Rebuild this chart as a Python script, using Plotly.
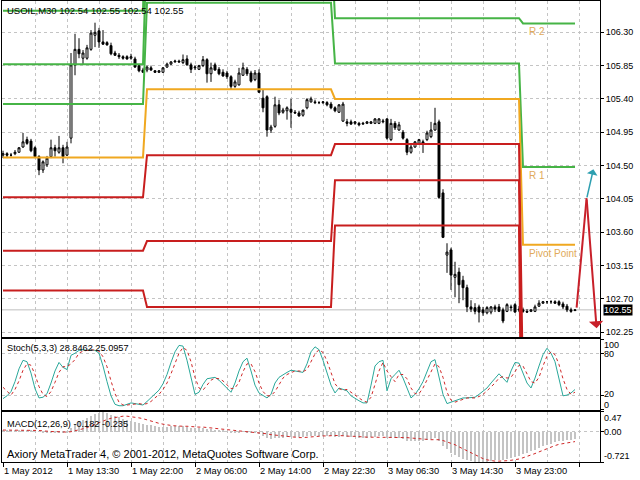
"""
USOIL M30 chart with daily pivot levels, Stochastic and MACD panels.
"""

import plotly.graph_objects as go

# ---- price bars (M30) ----
BARS = list(range(144))

OPEN = [
    104.64, 104.66, 104.64, 104.66, 104.68, 104.75, 104.85, 104.83, 104.74, 104.62,
    104.44, 104.51, 104.62, 104.74, 104.68, 104.74, 104.64, 104.87, 105.86, 106.07,
    105.95, 105.95, 106.07, 106.26, 106.32, 106.17, 106.16, 106.12, 106.02, 105.99,
    105.97, 105.97, 105.95, 105.94, 105.85, 105.79, 105.79, 105.82, 105.78, 105.76,
    105.76, 105.83, 105.87, 105.90, 105.91, 105.89, 105.94, 105.86, 105.82, 105.80,
    105.85, 105.93, 105.74, 105.86, 105.80, 105.76, 105.75, 105.70, 105.57, 105.59,
    105.72, 105.80, 105.75, 105.66, 105.75, 105.41, 105.43, 104.98, 105.03, 105.32,
    105.22, 105.24, 105.26, 105.22, 105.21, 105.18, 105.28, 105.36, 105.36, 105.35,
    105.35, 105.35, 105.33, 105.28, 105.22, 105.10, 105.09, 105.09, 105.07, 105.07,
    105.06, 105.07, 105.07, 105.07, 105.07, 105.09, 105.13, 104.85, 105.07, 104.98,
    104.95, 104.85, 104.68, 104.75, 104.80, 104.82, 104.85, 104.89, 104.98, 105.09,
    104.13, 103.29, 103.36, 102.99, 103.06, 102.95, 102.85, 102.59, 102.58, 102.59,
    102.55, 102.51, 102.52, 102.59, 102.59, 102.55, 102.53, 102.59, 102.62, 102.56,
    102.55, 102.53, 102.53, 102.53, 102.60, 102.64, 102.66, 102.66, 102.66, 102.66,
    102.63, 102.60, 102.55, 102.54,
]
HIGH = [
    104.70, 104.68, 104.67, 104.71, 104.75, 104.94, 104.89, 104.86, 104.76, 104.64,
    104.57, 104.63, 104.85, 104.78, 104.90, 104.78, 104.82, 106.02, 106.28, 106.22,
    106.06, 106.13, 106.33, 106.43, 106.36, 106.33, 106.18, 106.16, 106.05, 106.02,
    105.99, 105.99, 106.01, 105.97, 105.87, 105.82, 105.85, 105.85, 105.79, 105.79,
    105.83, 105.89, 105.91, 105.93, 105.93, 106.00, 105.99, 105.89, 105.85, 105.86,
    105.98, 105.95, 105.89, 105.89, 105.83, 105.80, 105.78, 105.72, 105.66, 105.82,
    105.89, 105.83, 105.78, 105.79, 105.80, 105.53, 105.45, 105.05, 105.43, 105.39,
    105.28, 105.30, 105.40, 105.25, 105.24, 105.22, 105.41, 105.43, 105.39, 105.37,
    105.37, 105.37, 105.36, 105.30, 105.33, 105.36, 105.13, 105.12, 105.10, 105.09,
    105.09, 105.10, 105.10, 105.14, 105.14, 105.13, 105.14, 105.13, 105.10, 105.09,
    104.98, 104.87, 104.78, 104.83, 104.86, 104.85, 104.97, 105.09, 105.28, 105.12,
    104.18, 103.45, 103.39, 103.20, 103.12, 103.01, 102.89, 102.68, 102.64, 102.62,
    102.59, 102.60, 102.60, 102.62, 102.63, 102.58, 102.64, 102.62, 102.64, 102.60,
    102.58, 102.56, 102.56, 102.62, 102.68, 102.67, 102.67, 102.68, 102.68, 102.68,
    102.66, 102.63, 102.58, 102.55,
]
LOW = [
    104.60, 104.60, 104.62, 104.64, 104.67, 104.74, 104.78, 104.68, 104.60, 104.37,
    104.40, 104.48, 104.60, 104.62, 104.66, 104.53, 104.63, 104.80, 105.72, 105.95,
    105.87, 105.93, 106.05, 106.10, 106.09, 106.13, 106.12, 105.99, 105.98, 105.94,
    105.93, 105.93, 105.93, 105.82, 105.76, 105.75, 105.76, 105.78, 105.75, 105.75,
    105.75, 105.82, 105.86, 105.89, 105.89, 105.87, 105.85, 105.75, 105.79, 105.79,
    105.83, 105.62, 105.63, 105.78, 105.72, 105.70, 105.67, 105.53, 105.55, 105.58,
    105.71, 105.71, 105.62, 105.64, 105.48, 105.22, 104.89, 104.94, 105.01, 105.18,
    105.20, 105.12, 105.01, 105.20, 105.16, 105.16, 105.26, 105.35, 105.33, 105.33,
    105.33, 105.30, 105.26, 105.22, 105.21, 105.09, 105.03, 105.05, 105.05, 105.03,
    105.05, 105.06, 105.06, 105.06, 105.06, 105.07, 104.85, 104.83, 104.98, 104.97,
    104.85, 104.64, 104.66, 104.74, 104.78, 104.67, 104.83, 104.87, 104.97, 104.05,
    103.52, 103.05, 102.82, 102.72, 102.64, 102.68, 102.52, 102.52, 102.49, 102.38,
    102.47, 102.49, 102.49, 102.52, 102.52, 102.37, 102.52, 102.53, 102.51, 102.52,
    102.51, 102.51, 102.52, 102.52, 102.59, 102.63, 102.63, 102.63, 102.63, 102.60,
    102.56, 102.52, 102.51, 102.54,
]
CLOSE = [
    104.66, 104.64, 104.64, 104.68, 104.74, 104.82, 104.80, 104.70, 104.62, 104.44,
    104.55, 104.60, 104.74, 104.70, 104.74, 104.62, 104.75, 105.86, 106.07, 106.01,
    106.02, 106.09, 106.29, 106.30, 106.17, 106.14, 106.13, 106.01, 105.99, 105.97,
    105.95, 105.94, 105.97, 105.83, 105.78, 105.76, 105.83, 105.79, 105.76, 105.78,
    105.82, 105.87, 105.90, 105.91, 105.90, 105.93, 105.86, 105.80, 105.83, 105.85,
    105.93, 105.74, 105.82, 105.79, 105.74, 105.71, 105.70, 105.57, 105.63, 105.75,
    105.82, 105.74, 105.64, 105.75, 105.49, 105.28, 104.98, 105.02, 105.32, 105.21,
    105.25, 105.28, 105.22, 105.21, 105.17, 105.25, 105.39, 105.40, 105.35, 105.35,
    105.36, 105.32, 105.28, 105.24, 105.32, 105.33, 105.07, 105.06, 105.09, 105.05,
    105.07, 105.09, 105.09, 105.13, 105.13, 105.10, 104.87, 105.07, 105.01, 105.05,
    104.87, 104.68, 104.75, 104.82, 104.85, 104.80, 104.94, 104.98, 105.07, 104.07,
    103.53, 103.33, 103.02, 103.03, 102.89, 102.85, 102.59, 102.56, 102.53, 102.52,
    102.51, 102.58, 102.59, 102.56, 102.53, 102.40, 102.62, 102.58, 102.52, 102.55,
    102.53, 102.52, 102.55, 102.59, 102.64, 102.66, 102.66, 102.66, 102.64, 102.62,
    102.59, 102.55, 102.53, 102.55,
]

# ---- daily pivot levels (one value per day) ----
DAY_START = [0, 36, 83, 130]
R3 = [106.59, 108.75, 106.98, 107.47]
R2 = [105.87, 107.59, 106.49, 106.42]
R1 = [105.33, 106.70, 105.88, 104.48]
PP = [104.61, 105.53, 105.40, 103.43]
S1 = [104.07, 104.64, 104.79, 101.49]
S2 = [103.35, 103.48, 104.30, 100.44]
S3 = [102.81, 102.59, 103.69, 98.50]

# ---- Stochastic(5,3,3) ----
STOCH_K = [
    16, 20, 26, 40, 58, 70, 68, 52, 30, 17,
    18, 23, 38, 55, 67, 60, 57, 77, 80, 84,
    85, 84, 85, 84, 80, 62, 40, 20, 8, 6,
    6, 8, 10, 9, 8, 7, 12, 17, 22, 28,
    37, 50, 67, 82, 91, 90, 70, 45, 22, 25,
    36, 44, 45, 46, 42, 36, 30, 25, 38, 55,
    68, 73, 55, 35, 24, 20, 17, 22, 38, 46,
    50, 53, 56, 55, 54, 53, 65, 82, 89, 85,
    70, 52, 35, 24, 31, 29, 27, 20, 16, 13,
    10, 10, 35, 62, 68, 70, 27, 44, 50, 56,
    45, 30, 17, 22, 30, 40, 55, 68, 71, 45,
    22, 9, 11, 13, 16, 17, 17, 17, 18, 22,
    27, 31, 38, 45, 51, 45, 39, 55, 67, 66,
    52, 38, 31, 45, 62, 78, 87, 80, 68, 45,
    20, 21, 24, 28.8462,
]
STOCH_D = [
    32, 26, 21, 29, 41, 56, 65, 63, 50, 33,
    22, 19, 26, 39, 53, 61, 61, 65, 71, 80,
    83, 84, 85, 84, 83, 75, 61, 41, 23, 11,
    7, 7, 8, 9, 9, 8, 9, 12, 17, 22,
    29, 38, 51, 66, 80, 88, 84, 68, 46, 31,
    28, 35, 42, 45, 44, 41, 36, 30, 31, 39,
    54, 65, 65, 54, 38, 26, 20, 20, 26, 35,
    45, 50, 53, 55, 55, 54, 57, 67, 79, 85,
    81, 69, 52, 37, 30, 28, 29, 25, 21, 16,
    13, 11, 18, 36, 55, 67, 55, 47, 40, 50,
    50, 44, 31, 23, 23, 31, 42, 54, 65, 61,
    46, 25, 14, 11, 13, 15, 17, 17, 17, 19,
    22, 27, 32, 38, 45, 47, 45, 46, 54, 63,
    62, 52, 40, 38, 46, 62, 76, 82, 78, 64,
    44, 29, 22, 25.0957,
]

# ---- MACD(12,26,9) ----
MACD_MAIN = [
    0.03, 0.03, 0.02, 0.02, 0.03, 0.04, 0.04, 0.03, 0.02, 0.00,
    -0.02, -0.03, -0.02, -0.02, -0.01, -0.02, -0.01, 0.08, 0.18, 0.25,
    0.28, 0.33, 0.38, 0.42, 0.45, 0.47, 0.44, 0.40, 0.37, 0.34,
    0.31, 0.28, 0.26, 0.23, 0.20, 0.18, 0.16, 0.15, 0.13, 0.12,
    0.12, 0.12, 0.13, 0.13, 0.13, 0.14, 0.12, 0.10, 0.09, 0.08,
    0.09, 0.06, 0.06, 0.05, 0.04, 0.02, 0.01, -0.02, -0.03, -0.02,
    0.00, -0.01, -0.03, -0.03, -0.06, -0.09, -0.15, -0.17, -0.15, -0.15,
    -0.14, -0.13, -0.13, -0.13, -0.13, -0.12, -0.11, -0.10, -0.10, -0.09,
    -0.09, -0.10, -0.11, -0.12, -0.12, -0.11, -0.12, -0.13, -0.13, -0.14,
    -0.14, -0.14, -0.13, -0.12, -0.11, -0.11, -0.14, -0.14, -0.15, -0.15,
    -0.17, -0.21, -0.22, -0.22, -0.21, -0.21, -0.19, -0.17, -0.14, -0.22,
    -0.33, -0.42, -0.50, -0.55, -0.60, -0.64, -0.68, -0.70, -0.71, -0.72,
    -0.721, -0.71, -0.70, -0.68, -0.67, -0.67, -0.65, -0.62, -0.60, -0.57,
    -0.53, -0.50, -0.47, -0.43, -0.39, -0.35, -0.31, -0.28, -0.25, -0.23,
    -0.21, -0.20, -0.19, -0.182,
]
MACD_SIGNAL = [
    0.04, 0.04, 0.03, 0.03, 0.03, 0.03, 0.03, 0.03, 0.03, 0.03,
    0.02, 0.01, 0.01, 0.00, 0.00, -0.01, -0.01, 0.00, 0.02, 0.04,
    0.07, 0.10, 0.14, 0.18, 0.22, 0.26, 0.29, 0.32, 0.34, 0.36,
    0.37, 0.37, 0.36, 0.35, 0.33, 0.31, 0.28, 0.25, 0.22, 0.20,
    0.18, 0.16, 0.15, 0.14, 0.13, 0.13, 0.13, 0.12, 0.12, 0.11,
    0.11, 0.10, 0.09, 0.08, 0.07, 0.06, 0.05, 0.04, 0.03, 0.02,
    0.01, 0.00, 0.00, -0.01, -0.02, -0.03, -0.05, -0.07, -0.08, -0.10,
    -0.11, -0.12, -0.13, -0.14, -0.14, -0.14, -0.13, -0.13, -0.12, -0.11,
    -0.10, -0.10, -0.09, -0.09, -0.09, -0.10, -0.10, -0.11, -0.11, -0.12,
    -0.12, -0.13, -0.13, -0.13, -0.13, -0.13, -0.13, -0.13, -0.13, -0.13,
    -0.14, -0.14, -0.15, -0.16, -0.17, -0.18, -0.19, -0.19, -0.19, -0.19,
    -0.21, -0.24, -0.27, -0.31, -0.36, -0.41, -0.46, -0.51, -0.56, -0.60,
    -0.64, -0.67, -0.69, -0.70, -0.70, -0.70, -0.69, -0.68, -0.67, -0.65,
    -0.62, -0.59, -0.56, -0.52, -0.48, -0.44, -0.40, -0.36, -0.33, -0.30,
    -0.28, -0.26, -0.25, -0.235,
]

# ---- axis labels ----
PRICE_TICKS = [102.25, 102.70, 103.15, 103.60, 104.05, 104.50, 104.95, 105.40, 105.85, 106.30]
TIME_TICKS = [0, 16, 32, 48, 64, 80, 96, 112, 128]
TIME_LABELS = ["1 May 2012", "1 May 13:30", "1 May 22:00", "2 May 06:00", "2 May 14:00",
               "2 May 22:30", "3 May 06:30", "3 May 14:30", "3 May 23:00"]

# hand drawn forecast arrows (bar, price)
ZIGZAG_BARS = [143.4, 145.9, 148.4]
ZIGZAG_PRICES = [102.58, 104.06, 102.30]
UP_ARROW_BARS = [145.9, 147.6]
UP_ARROW_PRICES = [104.05, 104.45]

FONT = "Liberation Sans, Arial, sans-serif"
GRID = "#C4C4C4"
GREEN = "#46B446"
ORANGE = "#F0A820"
RED = "#C81E1E"
LABEL_GOLD = "#E1AA5A"


def expand_daily(levels):
    """Repeat one pivot value per day across that day's bars."""
    out = []
    for i in BARS:
        day = sum(1 for s in DAY_START if i >= s) - 1
        out.append(levels[day])
    return out


fig = go.Figure()

fig.add_trace(go.Candlestick(
    x=BARS, open=OPEN, high=HIGH, low=LOW, close=CLOSE,
    increasing=dict(line=dict(color="black", width=1), fillcolor="white"),
    decreasing=dict(line=dict(color="black", width=1), fillcolor="black"),
    whiskerwidth=0, xaxis="x", yaxis="y", showlegend=False,
))

# pivot levels drawn above the candles
for levels, color in [(R3, GREEN), (R2, GREEN), (R1, GREEN), (PP, ORANGE),
                      (S3, RED), (S2, RED), (S1, RED)]:
    fig.add_trace(go.Scatter(
        x=BARS, y=expand_daily(levels), mode="lines",
        line=dict(color=color, width=2), xaxis="x", yaxis="y",
        showlegend=False, hoverinfo="skip",
    ))

# forecast zigzag (first leg as a line, second leg as an arrow)
fig.add_trace(go.Scatter(
    x=ZIGZAG_BARS[:2], y=ZIGZAG_PRICES[:2], mode="lines",
    line=dict(color="#C8202A", width=2), xaxis="x", yaxis="y",
    showlegend=False, hoverinfo="skip",
))

# Stochastic
fig.add_trace(go.Scatter(
    x=BARS, y=STOCH_K, mode="lines", line=dict(color="#2AA89A", width=1),
    xaxis="x2", yaxis="y2", showlegend=False,
))
fig.add_trace(go.Scatter(
    x=BARS, y=STOCH_D, mode="lines", line=dict(color="#D02828", width=1, dash="3px,3px"),
    xaxis="x2", yaxis="y2", showlegend=False,
))

# MACD
fig.add_trace(go.Bar(
    x=BARS, y=MACD_MAIN, width=0.3, marker=dict(color="#C4C4C4", line=dict(width=0)),
    xaxis="x3", yaxis="y3", showlegend=False,
))
fig.add_trace(go.Scatter(
    x=BARS, y=MACD_SIGNAL, mode="lines", line=dict(color="#D02828", width=1, dash="3px,3px"),
    xaxis="x3", yaxis="y3", showlegend=False,
))

xcommon = dict(
    range=[-0.25, 149.25], showline=True, mirror=True, linecolor="black", linewidth=1,
    showgrid=True, gridcolor=GRID, griddash="3px,3px", zeroline=False,
    tickmode="linear", tick0=0, dtick=8, showticklabels=False, ticks="",
)
ycommon = dict(
    side="right", showline=True, mirror=True, linecolor="black", linewidth=1,
    showgrid=True, gridcolor=GRID, griddash="3px,3px", zeroline=False,
    ticks="outside", ticklen=3, tickcolor="black", fixedrange=True,
)

fig.update_layout(
    width=640, height=480, autosize=False,
    margin=dict(l=2, r=40, t=1, b=18, pad=0),
    paper_bgcolor="white", plot_bgcolor="white",
    font=dict(family=FONT, size=9, color="black"),
    bargap=0,
    xaxis=dict(xcommon, anchor="y", rangeslider=dict(visible=False)),
    xaxis2=dict(xcommon, anchor="y2", matches="x"),
    xaxis3=dict(xcommon, anchor="y3", matches="x", dtick=16, ticks="outside", ticklen=4,
                tickcolor="black",
                minor=dict(tick0=0, dtick=8, showgrid=True, gridcolor=GRID, griddash="3px,3px")),
    yaxis=dict(ycommon, domain=[0.2711, 1.0], range=[102.183, 106.723],
               tickmode="array", tickvals=PRICE_TICKS,
               ticktext=[f"{v:.2f}" for v in PRICE_TICKS]),
    yaxis2=dict(ycommon, domain=[0.1128, 0.2668], range=[0, 100],
                tickmode="array", tickvals=[0, 20, 80, 100], showticklabels=False),
    yaxis3=dict(ycommon, domain=[0.0, 0.1085], range=[-0.721, 0.47],
                tickmode="array", tickvals=[-0.721, 0.0, 0.47], showticklabels=False),
)

# bid line
fig.add_shape(type="line", xref="x domain", x0=0, x1=1, yref="y",
              y0=CLOSE[-1], y1=CLOSE[-1], line=dict(color="#BEBEBE", width=1), layer="below")

ann = []
ann.append(dict(
    text=f"USOIL,M30 {OPEN[-1]:.2f} {HIGH[-1]:.2f} {LOW[-1]:.2f} {CLOSE[-1]:.2f}",
    xref="paper", x=0, xanchor="left", xshift=3, yref="y domain", y=1, yanchor="top",
    yshift=-2, showarrow=False, font=dict(size=9.5)))
ann.append(dict(
    text=f"{CLOSE[-1]:.2f}", xref="paper", x=1, xanchor="left", xshift=3,
    yref="y", y=CLOSE[-1], yanchor="middle", showarrow=False, bgcolor="black",
    borderpad=0, font=dict(size=9, color="white")))

# pivot names next to today's levels
for name, levels in [("R 2", R2), ("R 1", R1), ("Pivot Point", PP)]:
    ann.append(dict(text=name, xref="x", x=DAY_START[-1] + 1, xanchor="left",
                    yref="y", y=levels[-1], yanchor="top", yshift=-1,
                    showarrow=False, font=dict(size=10, color=LABEL_GOLD)))

# forecast arrows
ann.append(dict(xref="x", yref="y", x=ZIGZAG_BARS[2], y=ZIGZAG_PRICES[2],
                axref="x", ayref="y", ax=ZIGZAG_BARS[1], ay=ZIGZAG_PRICES[1],
                showarrow=True, arrowhead=1, arrowsize=1.2, arrowwidth=2,
                arrowcolor="#C8202A", text=""))
ann.append(dict(xref="x", yref="y", x=UP_ARROW_BARS[1], y=UP_ARROW_PRICES[1],
                axref="x", ayref="y", ax=UP_ARROW_BARS[0], ay=UP_ARROW_PRICES[0],
                showarrow=True, arrowhead=1, arrowsize=1.2, arrowwidth=1.5,
                arrowcolor="#2E9FB0", text=""))

# indicator captions
ann.append(dict(
    text=f"Stoch(5,3,3) {STOCH_K[-1]:.4f} {STOCH_D[-1]:.4f}",
    xref="paper", x=0, xanchor="left", xshift=3, yref="y2 domain", y=1,
    yanchor="top", yshift=-2, showarrow=False, font=dict(size=9.2)))
ann.append(dict(
    text=f"MACD(12,26,9) {MACD_MAIN[-1]:.3f} {MACD_SIGNAL[-1]:.3f}",
    xref="paper", x=0, xanchor="left", xshift=3, yref="y3 domain", y=1,
    yanchor="top", yshift=-5, showarrow=False, font=dict(size=9.2)))
ann.append(dict(
    text="Axiory MetaTrader 4, © 2001-2012, MetaQuotes Software Corp.",
    xref="paper", x=0, xanchor="left", xshift=3, yref="y3 domain", y=0,
    yanchor="bottom", yshift=0, showarrow=False, font=dict(size=11)))

# right-hand scale labels for the indicator windows
for val, txt, anchor, shift in [(100, "100", "top", 0), (80, "80", "middle", -1),
                                (20, "20", "middle", 2), (0, "0", "bottom", -1)]:
    ann.append(dict(text=txt, xref="paper", x=1, xanchor="left", xshift=3,
                    yref="y2", y=val, yanchor=anchor, yshift=shift,
                    showarrow=False, borderpad=0))
for val, txt, anchor in [(0.47, "0.47", "top"), (0.0, "0.00", "middle"),
                         (-0.721, "-0.721", "bottom")]:
    ann.append(dict(text=txt, xref="paper", x=1, xanchor="left", xshift=3,
                    yref="y3", y=val, yanchor=anchor, showarrow=False, borderpad=0))

# time labels start at their tick, MT4 style
for bar, label in zip(TIME_TICKS, TIME_LABELS):
    ann.append(dict(text=label, xref="x3", x=bar, xanchor="left", xshift=-1,
                    yref="paper", y=0, yanchor="top", yshift=-2,
                    showarrow=False, font=dict(size=9.3)))

fig.update_layout(annotations=ann)

# the page's default body margin would shift the chart by 8px
fig.write_html("out.html", config={"displayModeBar": False},
               post_script="document.body.style.margin='0';"
                           "document.body.style.overflow='hidden';")
